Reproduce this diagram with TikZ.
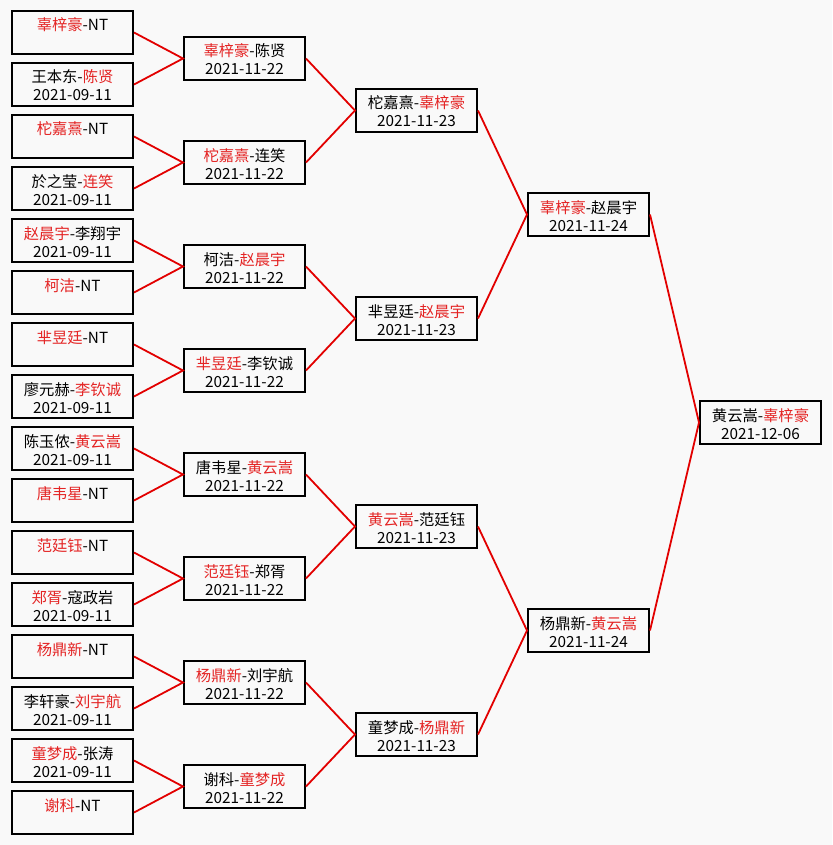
\documentclass[tikz,border=0pt]{standalone}
\usepackage{fontspec}
\setmainfont{Noto Sans CJK SC}
\definecolor{winred}{RGB}{228,36,36}
\definecolor{linkred}{RGB}{226,0,0}
\definecolor{paper}{RGB}{249,249,249}
\newcommand{\win}[1]{\textcolor{winred}{#1}}
\newcommand{\duel}[2]{\rule[-1.5pt]{0pt}{18pt}#1\\\rule[-1.5pt]{0pt}{18pt}#2}

\begin{document}
\begin{tikzpicture}[
    x=1pt, y=-1pt,
    every node/.style={font=\fontsize{15.3pt}{18pt}\selectfont},
    game/.style={draw, line width=2pt, minimum width=121pt,
                 minimum height=43pt, inner sep=0pt, align=center},
    link/.style={linkred, line width=1.8pt}
]

% Paper
\fill[paper] (0, 0) rectangle (832, 845);
\useasboundingbox (0, 0) rectangle (832, 845);

% Round 1
\node[game] (a1)  at (72.5, 32.5)  {\duel{\win{辜梓豪}-NT}{}};
\node[game] (a2)  at (72.5, 84.5)  {\duel{王本东-\win{陈贤}}{2021-09-11}};
\node[game] (a3)  at (72.5, 136.5) {\duel{\win{柁嘉熹}-NT}{}};
\node[game] (a4)  at (72.5, 188.5) {\duel{於之莹-\win{连笑}}{2021-09-11}};
\node[game] (a5)  at (72.5, 240.5) {\duel{\win{赵晨宇}-李翔宇}{2021-09-11}};
\node[game] (a6)  at (72.5, 292.5) {\duel{\win{柯洁}-NT}{}};
\node[game] (a7)  at (72.5, 344.5) {\duel{\win{芈昱廷}-NT}{}};
\node[game] (a8)  at (72.5, 396.5) {\duel{廖元赫-\win{李钦诚}}{2021-09-11}};
\node[game] (a9)  at (72.5, 448.5) {\duel{陈玉侬-\win{黄云嵩}}{2021-09-11}};
\node[game] (a10) at (72.5, 500.5) {\duel{\win{唐韦星}-NT}{}};
\node[game] (a11) at (72.5, 552.5) {\duel{\win{范廷钰}-NT}{}};
\node[game] (a12) at (72.5, 604.5) {\duel{\win{郑胥}-寇政岩}{2021-09-11}};
\node[game] (a13) at (72.5, 656.5) {\duel{\win{杨鼎新}-NT}{}};
\node[game] (a14) at (72.5, 708.5) {\duel{李轩豪-\win{刘宇航}}{2021-09-11}};
\node[game] (a15) at (72.5, 760.5) {\duel{\win{童梦成}-张涛}{2021-09-11}};
\node[game] (a16) at (72.5, 812.5) {\duel{\win{谢科}-NT}{}};

% Round 2
\node[game] (b1) at (244.5, 58.5)  {\duel{\win{辜梓豪}-陈贤}{2021-11-22}};
\node[game] (b2) at (244.5, 162.5) {\duel{\win{柁嘉熹}-连笑}{2021-11-22}};
\node[game] (b3) at (244.5, 266.5) {\duel{柯洁-\win{赵晨宇}}{2021-11-22}};
\node[game] (b4) at (244.5, 370.5) {\duel{\win{芈昱廷}-李钦诚}{2021-11-22}};
\node[game] (b5) at (244.5, 474.5) {\duel{唐韦星-\win{黄云嵩}}{2021-11-22}};
\node[game] (b6) at (244.5, 578.5) {\duel{\win{范廷钰}-郑胥}{2021-11-22}};
\node[game] (b7) at (244.5, 682.5) {\duel{\win{杨鼎新}-刘宇航}{2021-11-22}};
\node[game] (b8) at (244.5, 786.5) {\duel{谢科-\win{童梦成}}{2021-11-22}};

% Quarter-finals
\node[game] (c1) at (416.5, 110.5) {\duel{柁嘉熹-\win{辜梓豪}}{2021-11-23}};
\node[game] (c2) at (416.5, 318.5) {\duel{芈昱廷-\win{赵晨宇}}{2021-11-23}};
\node[game] (c3) at (416.5, 526.5) {\duel{\win{黄云嵩}-范廷钰}{2021-11-23}};
\node[game] (c4) at (416.5, 734.5) {\duel{童梦成-\win{杨鼎新}}{2021-11-23}};

% Semi-finals
\node[game] (d1) at (588.5, 214.5) {\duel{\win{辜梓豪}-赵晨宇}{2021-11-24}};
\node[game] (d2) at (588.5, 630.5) {\duel{杨鼎新-\win{黄云嵩}}{2021-11-24}};

% Final
\node[game] (final) at (760.5, 422.5) {\duel{黄云嵩-\win{辜梓豪}}{2021-12-06}};

% Links, round 1 -> round 2
\draw[link] (a1.east) -- (b1.west) -- (a2.east);
\draw[link] (a3.east) -- (b2.west) -- (a4.east);
\draw[link] (a5.east) -- (b3.west) -- (a6.east);
\draw[link] (a7.east) -- (b4.west) -- (a8.east);
\draw[link] (a9.east) -- (b5.west) -- (a10.east);
\draw[link] (a11.east) -- (b6.west) -- (a12.east);
\draw[link] (a13.east) -- (b7.west) -- (a14.east);
\draw[link] (a15.east) -- (b8.west) -- (a16.east);

% Links, round 2 -> quarter-finals
\draw[link] (b1.east) -- (c1.west) -- (b2.east);
\draw[link] (b3.east) -- (c2.west) -- (b4.east);
\draw[link] (b5.east) -- (c3.west) -- (b6.east);
\draw[link] (b7.east) -- (c4.west) -- (b8.east);

% Links, quarter-finals -> semi-finals -> final
\draw[link] (c1.east) -- (d1.west) -- (c2.east);
\draw[link] (c3.east) -- (d2.west) -- (c4.east);
\draw[link] (d1.east) -- (final.west) -- (d2.east);

\end{tikzpicture}
\end{document}
